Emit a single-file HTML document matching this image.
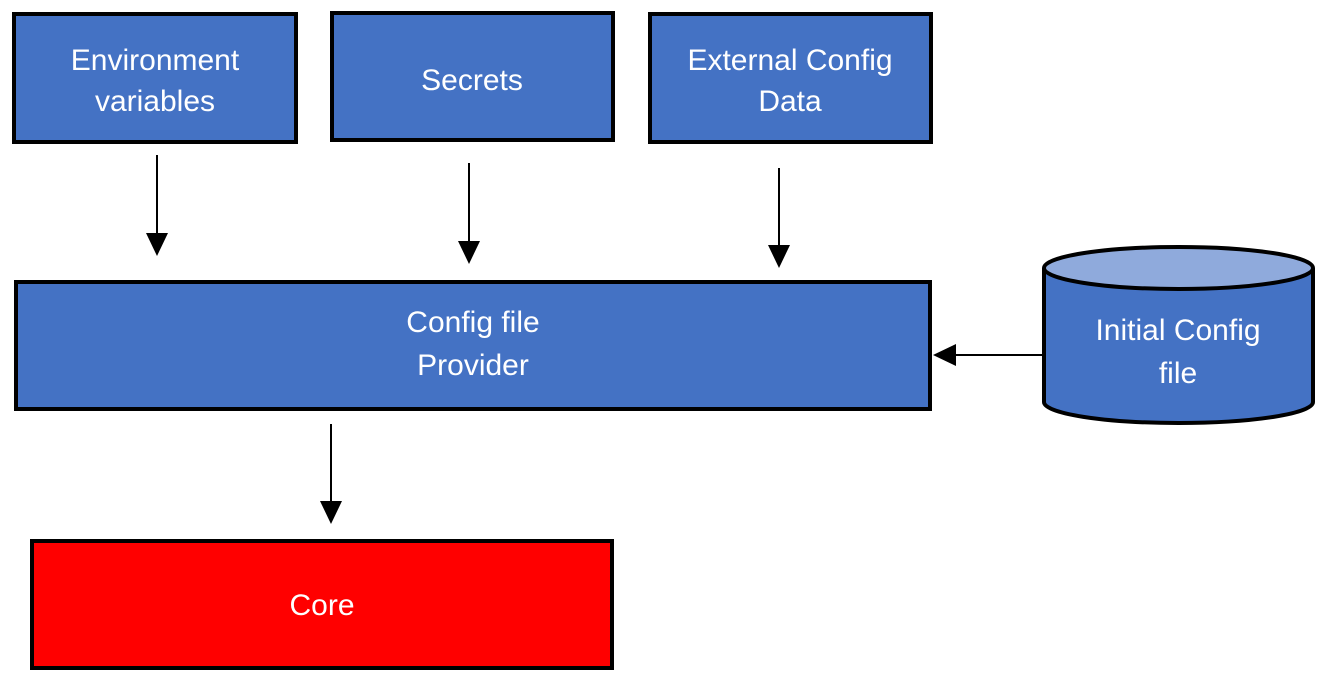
<!DOCTYPE html>
<html><head><meta charset="utf-8"><style>
html,body{margin:0;padding:0;background:#fff;}
svg{display:block;}
</style></head><body>
<svg width="1322" height="682" viewBox="0 0 1322 682" xmlns="http://www.w3.org/2000/svg">
<g stroke="#000" stroke-width="4" fill="#4472C4">
<rect x="14" y="14" width="282" height="128"/>
<rect x="332" y="13" width="281" height="127"/>
<rect x="650" y="14" width="281" height="128"/>
<rect x="16" y="282" width="914" height="127"/>
<rect x="32" y="541" width="580" height="127" fill="#FF0000"/>
<path d="M1044,268 L1044,402 A134.5,21 0 0 0 1313,402 L1313,268" />
<ellipse cx="1178.5" cy="268" rx="134.5" ry="21" fill="#8FAADC"/>
</g>
<g stroke="#000" stroke-width="2" fill="#000">
<line x1="157" y1="155" x2="157" y2="236"/><path d="M146,233 L168,233 L157,256 Z" stroke="none"/>
<line x1="469" y1="163" x2="469" y2="244"/><path d="M458,241 L480,241 L469,264 Z" stroke="none"/>
<line x1="779" y1="168" x2="779" y2="248"/><path d="M768,245 L790,245 L779,268 Z" stroke="none"/>
<line x1="331" y1="424" x2="331" y2="504"/><path d="M320,501 L342,501 L331,524 Z" stroke="none"/>
<line x1="1043" y1="355" x2="953" y2="355"/><path d="M956,344 L956,366 L933,355 Z" stroke="none"/>
</g>
<g font-family="Liberation Sans, sans-serif" font-size="30" fill="#fff" text-anchor="middle">
<text x="155" y="70">Environment</text>
<text x="155" y="111">variables</text>
<text x="472" y="90">Secrets</text>
<text x="790" y="70">External Config</text>
<text x="790" y="111">Data</text>
<text x="473" y="332">Config file</text>
<text x="473" y="375">Provider</text>
<text x="322" y="615">Core</text>
<text x="1178" y="340">Initial Config</text>
<text x="1178" y="383">file</text>
</g>
</svg>
</body></html>
